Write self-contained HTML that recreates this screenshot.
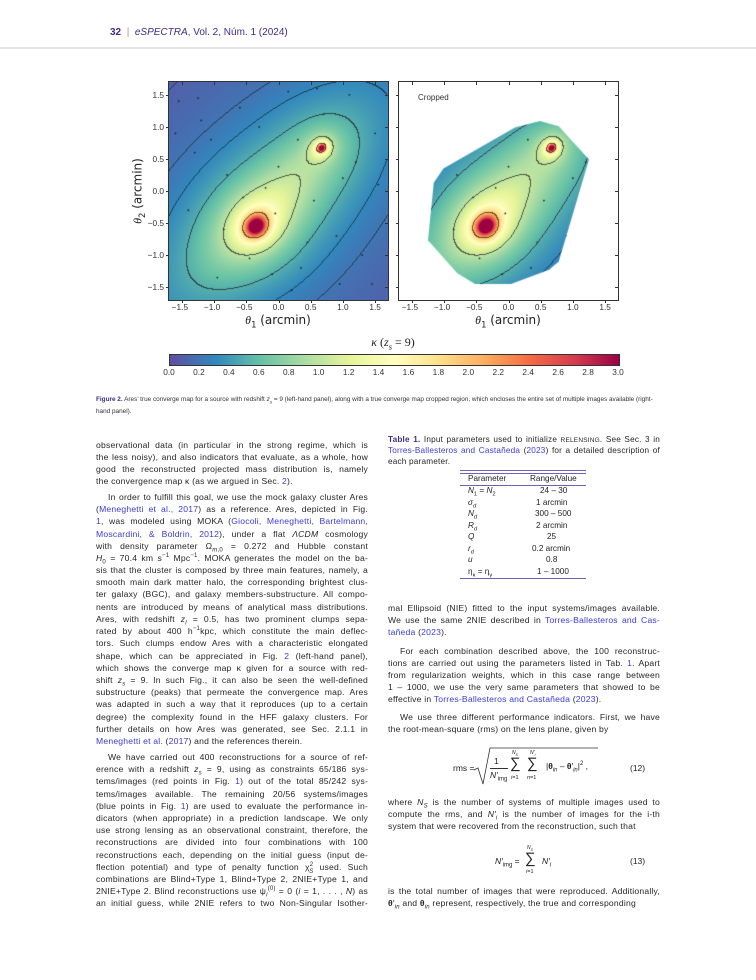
<!DOCTYPE html>
<html><head><meta charset="utf-8">
<style>
*{margin:0;padding:0;box-sizing:border-box}
body{width:756px;height:980px;background:#fff;position:relative;overflow:hidden;font-family:"Liberation Sans",sans-serif;color:#222}
.abs{position:absolute}
.l{position:absolute;white-space:nowrap;font-size:8.6px;letter-spacing:0.2px;line-height:12px;text-align:justify;text-align-last:justify;color:#262626}
.l.e{text-align-last:left}
.lc{width:272px}
a,.lk{color:#3b3bd6;text-decoration:none}
.tk{position:absolute;font-size:8.3px;color:#333;transform:translateX(-50%);white-space:nowrap}
.tky{position:absolute;font-size:8.3px;color:#333;transform:translate(-100%,-50%);white-space:nowrap}
.tr{position:absolute;font-size:8.2px;white-space:nowrap}
sub,sup{font-size:70%;line-height:0}
i{font-style:italic}
</style></head><body>

<div class="abs" style="left:110px;top:27px;font-size:10px;color:#3a2f8a"><b>32</b> &nbsp;<span style="color:#999">|</span>&nbsp; <i>eSPECTRA</i>, Vol. 2, Núm. 1 (2024)</div>
<div class="abs" style="left:0;top:47px;width:756px;height:2px;background:#e4e4e4"></div>

<canvas id="cL" class="abs" width="219" height="218" style="left:169px;top:82px"></canvas>
<canvas id="cR" class="abs" width="219" height="218" style="left:399px;top:82px"></canvas>
<div class="abs" style="left:168px;top:81px;width:221px;height:220px;border:1px solid #333"></div>
<div class="abs" style="left:398px;top:81px;width:221px;height:220px;border:1px solid #333"></div>
<div class="abs" style="left:418px;top:93px;font-size:8px;color:#333">Cropped</div>
<div id="ticks"></div>
<div class="abs" style="left:278px;top:313px;transform:translateX(-50%);font-size:12px;white-space:nowrap;font-family:'DejaVu Sans',sans-serif"><i style="font-family:'Liberation Serif',serif">θ</i><sub>1</sub> (arcmin)</div>
<div class="abs" style="left:508px;top:313px;transform:translateX(-50%);font-size:12px;white-space:nowrap;font-family:'DejaVu Sans',sans-serif"><i style="font-family:'Liberation Serif',serif">θ</i><sub>1</sub> (arcmin)</div>
<div class="abs" style="left:138px;top:191px;transform:translate(-50%,-50%) rotate(-90deg);font-size:12px;white-space:nowrap;font-family:'DejaVu Sans',sans-serif"><i style="font-family:'Liberation Serif',serif">θ</i><sub>2</sub> (arcmin)</div>
<div class="abs" style="left:393px;top:335px;transform:translateX(-50%);font-size:12px;white-space:nowrap;font-family:'Liberation Serif',serif"><i>κ</i> (<i>z<sub>s</sub></i> = 9)</div>
<canvas id="cb" class="abs" width="449" height="10" style="left:169px;top:354px;border:1px solid #333"></canvas>

<div class="abs" style="left:96px;top:394px;width:564px;font-size:6.4px;line-height:11.5px;color:#333"><b style="color:#3a2f8a">Figure 2.</b> Ares’ true converge map for a source with redshift <i>z<sub>s</sub></i> = 9 (left-hand panel), along with a true converge map cropped region, which encloses the entire set of multiple images available (right-hand panel).</div>

<div>
<div class="l lc" style="left:96px;top:439px">observational data (in particular in the strong regime, which is</div>
<div class="l lc" style="left:96px;top:451px">the less noisy), and also indicators that evaluate, as a whole, how</div>
<div class="l lc" style="left:96px;top:463px">good the reconstructed projected mass distribution is, namely</div>
<div class="l lc e" style="left:96px;top:475px">the convergence map κ (as we argued in Sec. <span class="lk">2</span>).</div>
<div class="l" style="left:108px;width:260px;top:491px">In order to fulfill this goal, we use the mock galaxy cluster Ares</div>
<div class="l lc" style="left:96px;top:503px">(<span class="lk">Meneghetti et al., 2017</span>) as a reference. Ares, depicted in Fig.</div>
<div class="l lc" style="left:96px;top:515px"><span class="lk">1</span>, was modeled using MOKA (<span class="lk">Giocoli, Meneghetti, Bartelmann,</span></div>
<div class="l lc" style="left:96px;top:528px"><span class="lk">Moscardini, &amp; Boldrin, 2012</span>), under a flat <i>ΛCDM</i> cosmology</div>
<div class="l lc" style="left:96px;top:540px">with density parameter Ω<sub><i>m</i>,0</sub> = 0.272 and Hubble constant</div>
<div class="l lc" style="left:96px;top:552px"><i>H</i><sub>0</sub> = 70.4 km s<sup>−1</sup> Mpc<sup>−1</sup>. MOKA generates the model on the ba-</div>
<div class="l lc" style="left:96px;top:564px">sis that the cluster is composed by three main features, namely, a</div>
<div class="l lc" style="left:96px;top:576px">smooth main dark matter halo, the corresponding brightest clus-</div>
<div class="l lc" style="left:96px;top:588px">ter galaxy (BGC), and galaxy members-substructure. All compo-</div>
<div class="l lc" style="left:96px;top:601px">nents are introduced by means of analytical mass distributions.</div>
<div class="l lc" style="left:96px;top:613px">Ares, with redshift <i>z<sub>l</sub></i> = 0.5, has two prominent clumps sepa-</div>
<div class="l lc" style="left:96px;top:625px">rated by about 400 h<sup>−1</sup>kpc, which constitute the main deflec-</div>
<div class="l lc" style="left:96px;top:637px">tors. Such clumps endow Ares with a characteristic elongated</div>
<div class="l lc" style="left:96px;top:650px">shape, which can be appreciated in Fig. <span class="lk">2</span> (left-hand panel),</div>
<div class="l lc" style="left:96px;top:662px">which shows the converge map κ given for a source with red-</div>
<div class="l lc" style="left:96px;top:674px">shift <i>z<sub>s</sub></i> = 9. In such Fig., it can also be seen the well-defined</div>
<div class="l lc" style="left:96px;top:686px">substructure (peaks) that permeate the convergence map. Ares</div>
<div class="l lc" style="left:96px;top:698px">was adapted in such a way that it reproduces (up to a certain</div>
<div class="l lc" style="left:96px;top:711px">degree) the complexity found in the HFF galaxy clusters. For</div>
<div class="l lc" style="left:96px;top:723px">further details on how Ares was generated, see Sec. 2.1.1 in</div>
<div class="l lc e" style="left:96px;top:735px"><span class="lk">Meneghetti et al.</span> (<span class="lk">2017</span>) and the references therein.</div>
<div class="l" style="left:108px;width:260px;top:751px">We have carried out 400 reconstructions for a source of ref-</div>
<div class="l lc" style="left:96px;top:763px">erence with a redshift <i>z<sub>s</sub></i> = 9, using as constraints 65/186 sys-</div>
<div class="l lc" style="left:96px;top:775px">tems/images (red points in Fig. <span class="lk">1</span>) out of the total 85/242 sys-</div>
<div class="l lc" style="left:96px;top:788px">tems/images available. The remaining 20/56 systems/images</div>
<div class="l lc" style="left:96px;top:800px">(blue points in Fig. <span class="lk">1</span>) are used to evaluate the performance in-</div>
<div class="l lc" style="left:96px;top:812px">dicators (when appropriate) in a prediction landscape. We only</div>
<div class="l lc" style="left:96px;top:824px">use strong lensing as an observational constraint, therefore, the</div>
<div class="l lc" style="left:96px;top:836px">reconstructions are divided into four combinations with 100</div>
<div class="l lc" style="left:96px;top:849px">reconstructions each, depending on the initial guess (input de-</div>
<div class="l lc" style="left:96px;top:861px">flection potential) and type of penalty function χ<sup>2</sup><sub style="margin-left:-4px"><i>S</i></sub> used. Such</div>
<div class="l lc" style="left:96px;top:873px">combinations are Blind+Type 1, Blind+Type 2, 2NIE+Type 1, and</div>
<div class="l lc" style="left:96px;top:885px">2NIE+Type 2. Blind reconstructions use ψ<sub><i>i</i></sub><sup>(0)</sup> = 0 (<i>i</i> = 1, . . . , <i>N</i>) as</div>
<div class="l lc" style="left:96px;top:897px">an initial guess, while 2NIE refers to two Non-Singular Isother-</div>
</div>

<div>
<div class="l lc" style="left:388px;top:434px;font-size:8.2px;line-height:11px"><b style="color:#3a2f8a">Table 1.</b> Input parameters used to initialize <span style="font-size:6.5px">RELENSING</span>. See Sec. 3 in</div>
<div class="l lc" style="left:388px;top:445px;font-size:8.2px;line-height:11px"><span class="lk">Torres-Ballesteros and Castañeda</span> (<span class="lk">2023</span>) for a detailed description of</div>
<div class="l lc e" style="left:388px;top:456px;font-size:8.2px;line-height:11px">each parameter.</div>
</div>
<div class="abs" style="left:460px;top:470px;width:126px;height:110px">
<div class="abs" style="left:0;top:0;width:126px;height:1px;background:#6b62b8"></div>
<div class="abs" style="left:0;top:3px;width:126px;height:1px;background:#6b62b8"></div>
<div class="abs" style="left:0;top:15px;width:126px;height:1px;background:#6b62b8"></div>
<div class="abs" style="left:0;top:108px;width:126px;height:1px;background:#6b62b8"></div>
<div class="tr" style="left:8px;top:4px">Parameter</div><div class="tr" style="left:70px;top:4px">Range/Value</div>
<div class="tr" style="left:8px;top:16px"><i>N</i><sub>1</sub> = <i>N</i><sub>2</sub></div><div class="tr" style="left:80px;top:16px">24 – 30</div>
<div class="tr" style="left:8px;top:28px"><i>σ<sub>d</sub></i></div><div class="tr" style="left:76px;top:28px">1 arcmin</div>
<div class="tr" style="left:8px;top:39px"><i>N<sub>d</sub></i></div><div class="tr" style="left:75px;top:39px">300 – 500</div>
<div class="tr" style="left:8px;top:51px"><i>R<sub>d</sub></i></div><div class="tr" style="left:76px;top:51px">2 arcmin</div>
<div class="tr" style="left:8px;top:62px"><i>Q</i></div><div class="tr" style="left:87px;top:62px">25</div>
<div class="tr" style="left:8px;top:74px"><i>r<sub>d</sub></i></div><div class="tr" style="left:72px;top:74px">0.2 arcmin</div>
<div class="tr" style="left:8px;top:85px"><i>u</i></div><div class="tr" style="left:86px;top:85px">0.8</div>
<div class="tr" style="left:8px;top:97px">η<sub>κ</sub> = η<sub>γ</sub></div><div class="tr" style="left:77px;top:97px">1 – 1000</div>
</div>

<div>
<div class="l lc" style="left:388px;top:602px">mal Ellipsoid (NIE) fitted to the input systems/images available.</div>
<div class="l lc" style="left:388px;top:614px">We use the same 2NIE described in <span class="lk">Torres-Ballesteros and Cas-</span></div>
<div class="l lc e" style="left:388px;top:626px"><span class="lk">tañeda</span> (<span class="lk">2023</span>).</div>
<div class="l" style="left:400px;width:260px;top:645px">For each combination described above, the 100 reconstruc-</div>
<div class="l lc" style="left:388px;top:657px">tions are carried out using the parameters listed in Tab. <span class="lk">1</span>. Apart</div>
<div class="l lc" style="left:388px;top:669px">from regularization weights, which in this case range between</div>
<div class="l lc" style="left:388px;top:681px">1 – 1000, we use the very same parameters that showed to be</div>
<div class="l lc e" style="left:388px;top:693px">effective in <span class="lk">Torres-Ballesteros and Castañeda</span> (<span class="lk">2023</span>).</div>
<div class="l" style="left:400px;width:260px;top:711px">We use three different performance indicators. First, we have</div>
<div class="l lc e" style="left:388px;top:723px">the root-mean-square (rms) on the lens plane, given by</div>
<div class="l lc" style="left:388px;top:796px">where <i>N<sub>S</sub></i> is the number of systems of multiple images used to</div>
<div class="l lc" style="left:388px;top:808px">compute the rms, and <i>N′<sub>i</sub></i> is the number of images for the i-th</div>
<div class="l lc e" style="left:388px;top:820px">system that were recovered from the reconstruction, such that</div>
<div class="l lc" style="left:388px;top:885px">is the total number of images that were reproduced. Additionally,</div>
<div class="l lc e" style="left:388px;top:897px"><b>θ</b>′<sub><i>in</i></sub> and <b>θ</b><sub><i>in</i></sub> represent, respectively, the true and corresponding</div>
</div>

<div class="abs" style="left:450px;top:746px;width:210px;height:42px;font-size:8.5px">
<span class="abs" style="left:3px;top:17px">rms =</span>
<svg class="abs" style="left:24px;top:0" width="124" height="40"><path d="M0,24 L4,22 L9,38 L16,2 L124,2" stroke="#333" fill="none" stroke-width="0.8"/></svg>
<span class="abs" style="left:44px;top:10px">1</span>
<div class="abs" style="left:40px;top:22px;width:18px;height:1px;background:#333"></div>
<span class="abs" style="left:40px;top:24px"><i>N′</i><sub>img</sub></span>
<span class="abs" style="left:62px;top:4px;font-size:5px"><i>N<sub>S</sub></i></span>
<span class="abs" style="left:60px;top:9px;font-size:15px">∑</span>
<span class="abs" style="left:61px;top:29px;font-size:5.5px"><i>i</i>=1</span>
<span class="abs" style="left:80px;top:4px;font-size:5px"><i>N′<sub>i</sub></i></span>
<span class="abs" style="left:77px;top:9px;font-size:15px">∑</span>
<span class="abs" style="left:77px;top:29px;font-size:5.5px"><i>n</i>=1</span>
<span class="abs" style="left:96px;top:15px">|<b>θ</b><sub><i>in</i></sub> – <b>θ</b>′<sub><i>in</i></sub>|<sup>2</sup> ,</span>
<span class="abs" style="left:180px;top:17px">(12)</span>
</div>
<div class="abs" style="left:490px;top:845px;width:170px;height:36px;font-size:8.5px">
<span class="abs" style="left:5px;top:11px"><i>N′</i><sub>img</sub> =</span>
<span class="abs" style="left:37px;top:0;font-size:5px"><i>N<sub>S</sub></i></span>
<span class="abs" style="left:35px;top:5px;font-size:15px">∑</span>
<span class="abs" style="left:36px;top:24px;font-size:5.5px"><i>i</i>=1</span>
<span class="abs" style="left:52px;top:11px"><i>N′<sub>i</sub></i></span>
<span class="abs" style="left:140px;top:11px">(13)</span>
</div>

<script>
// ---- chart data ----
const xRange = [-1.7, 1.7];
const yRange = [-1.7, 1.7];
const tickValues = [-1.5, -1.0, -0.5, 0.0, 0.5, 1.0, 1.5];
const tickLabels = ["−1.5", "−1.0", "−0.5", "0.0", "0.5", "1.0", "1.5"];
const contourLevels = [0.1, 0.2, 0.3, 0.5, 1.0, 2.0];
const cbarTicks = [0.0, 0.2, 0.4, 0.6, 0.8, 1.0, 1.2, 1.4, 1.6, 1.8, 2.0, 2.2, 2.4, 2.6, 2.8, 3.0];
const kappaMax = 3.0;
// halo: centre x, centre y, peak, major, minor
const haloParams = [-0.1, -0.2, 0.85, 1.5, 0.6];
// clumps: x, y, amplitude, core radius
const clumpX = [-0.35, 0.67];
const clumpY = [-0.55, 0.67];
const clumpAmp = [3.5, 3.5];
const clumpCore = [0.1, 0.04];
const clumpPow = 0.7;
// small substructure galaxies (data coordinates)
const galX = [-1.55,-1.3,-1.2,-0.95,-0.8,-0.6,-0.45,-0.2,0.0,0.15,0.35,0.55,0.9,1.1,1.3,1.5,1.2,0.95,0.7,0.3,-0.05,-0.55,-1.05,-1.4,-1.6,0.45,1.45,0.2,-0.3,-0.85,1.0,-0.1,0.6,-1.25,1.55];
const galY = [1.4,0.6,1.1,-1.35,0.25,1.3,-1.05,0.05,0.38,1.55,-1.2,-0.15,-0.7,1.5,-1.0,0.9,0.45,-1.45,1.2,0.8,-0.35,-0.1,0.8,-0.3,0.9,-0.8,-1.45,-1.55,1.0,-0.6,0.2,-1.3,1.6,1.45,0.1];
const cropX = [-1.16,-1.01,0.10,0.49,0.78,1.25,0.78,0.63,0.04,-0.52,-0.80,-1.25];
const cropY = [0.13,0.35,0.99,1.09,1.01,0.49,-1.10,-1.23,-1.45,-1.45,-1.28,-0.77];

const cmapStops = ["#5e4fa2","#3288bd","#66c2a5","#abdda4","#e6f598","#ffffbf","#fee08b","#fdae61","#f46d43","#d53e4f","#9e0142"];
function hex(h){return [parseInt(h.substr(1,2),16),parseInt(h.substr(3,2),16),parseInt(h.substr(5,2),16)];}
const cm = cmapStops.map(hex);
function cmap(t){t=Math.max(0,Math.min(1,t))*(cm.length-1);const i=Math.min(cm.length-2,Math.floor(t)),f=t-i;return [0,1,2].map(k=>cm[i][k]+(cm[i+1][k]-cm[i][k])*f);}
function kappa(x,y){
  const dx=x-haloParams[0],dy=y-haloParams[1];
  const u=(dx+dy)/Math.SQRT2,v=(dy-dx)/Math.SQRT2;
  let k=haloParams[2]/(1+(u/haloParams[3])**2+(v/haloParams[4])**2);
  for(let i=0;i<clumpX.length;i++){
    const ex=x-clumpX[i],ey=y-clumpY[i];
    const cu=(ex+ey)/Math.SQRT2/1.15,cv=(ey-ex)/Math.SQRT2;
    k+=clumpAmp[i]/Math.pow(1+(cu*cu+cv*cv)/(clumpCore[i]**2),clumpPow);
  }
  return k;
}
const W=219,H=218;
function sx(x){return (x-xRange[0])/(xRange[1]-xRange[0])*W;}
function sy(y){return (yRange[1]-y)/(yRange[1]-yRange[0])*H;}
function ix(px){return xRange[0]+px/W*(xRange[1]-xRange[0]);}
function iy(py){return yRange[1]-py/H*(yRange[1]-yRange[0]);}
function lev(k){let n=0;for(const c of contourLevels)if(k>=c)n++;return n;}
function drawMap(id,crop){
  const c=document.getElementById(id),ctx=c.getContext('2d');
  const img=ctx.createImageData(W,H);
  const K=[],L=[];
  for(let j=0;j<H;j++)for(let i=0;i<W;i++){const k=kappa(ix(i+0.5),iy(j+0.5));K.push(k);L.push(lev(k));}
  for(let j=0;j<H;j++)for(let i=0;i<W;i++){
    const p=j*W+i;let col=cmap(K[p]/kappaMax);
    const a=L[p],r=i<W-1?L[p+1]:a,d=j<H-1?L[p+W]:a;
    if(a!==r||a!==d)col=col.map(v=>v*0.3+20);
    img.data[p*4]=col[0];img.data[p*4+1]=col[1];img.data[p*4+2]=col[2];img.data[p*4+3]=255;
  }
  const off=document.createElement('canvas');off.width=W;off.height=H;off.getContext('2d').putImageData(img,0,0);
  ctx.save();
  if(crop){ctx.beginPath();cropX.forEach((x,i)=>{i?ctx.lineTo(sx(x),sy(cropY[i])):ctx.moveTo(sx(x),sy(cropY[i]));});ctx.closePath();ctx.clip();}
  ctx.drawImage(off,0,0);
  ctx.fillStyle='#222';
  galX.forEach((x,i)=>{ctx.beginPath();ctx.arc(sx(x),sy(galY[i]),0.9,0,7);ctx.fill();});
  ctx.restore();
}
drawMap('cL',false);drawMap('cR',true);

// colorbar
(function(){const c=document.getElementById('cb'),ctx=c.getContext('2d');
for(let i=0;i<c.width;i++){const col=cmap(i/(c.width-1));ctx.fillStyle=`rgb(${col.map(Math.round).join(',')})`;ctx.fillRect(i,0,1,c.height);}})();

const T=document.getElementById('ticks');
function addTick(cls,left,top,txt,name){
  const d=document.createElement('div');d.className=cls;d.style.left=left+'px';d.style.top=top+'px';d.textContent=txt;
  
  
  T.appendChild(d);
}
function tickMark(left,top,w,h){const d=document.createElement('div');d.className='abs';d.style.cssText=`left:${left}px;top:${top}px;width:${w}px;height:${h}px;background:#333`;
  
  
  T.appendChild(d);}
[169,399].forEach((ox,pi)=>{
  tickValues.forEach((v,i)=>{
    const px=ox+sx(v);
    addTick('tk',px-(tickLabels[i][0]==='−'?2:0),302,tickLabels[i],pi?'x-tick-label-right':'x-tick-label-left');
    tickMark(px,300,1,3);tickMark(px,82,1,3);
    const py=82+sy(v);
    tickMark(ox-3,py,3,1);tickMark(ox+W-3,py,3,1);
    if(pi===0)addTick('tky',164,py,tickLabels[i],'y-tick-label');
  });
});
cbarTicks.forEach(v=>{addTick('tk',169+v/kappaMax*449,367,v.toFixed(1),'colorbar-tick-label');});
</script>
</body></html>
